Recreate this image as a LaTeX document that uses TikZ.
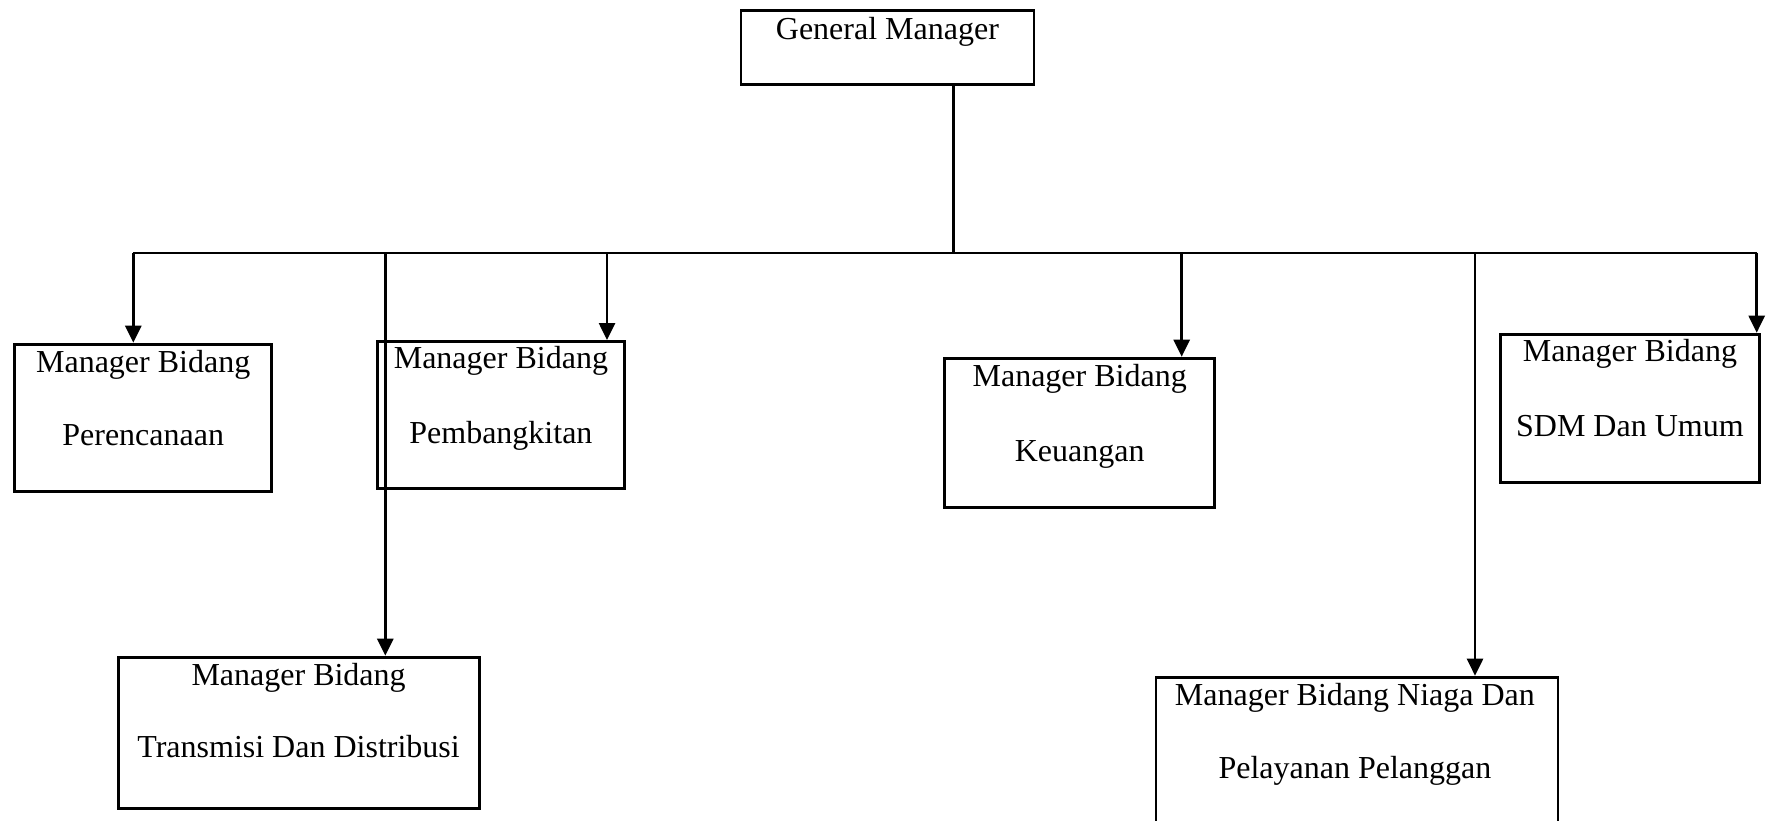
\documentclass[tikz,border=0pt]{standalone}
\usepackage{fontspec}
\setmainfont{Liberation Serif}
\usetikzlibrary{arrows.meta,calc}
\begin{document}
\begin{tikzpicture}[x=1pt,y=-1pt,
  orgbox/.style={draw=black,line width=2.8pt,rectangle,inner sep=0pt,anchor=north west},
  lbl/.style={anchor=base,inner sep=0pt,font=\fontsize{32}{38}\selectfont},
  conn/.style={line width=2.6pt,draw=black},
  arr/.style={conn,-{Triangle[length=17pt,width=16pt]}}]
\useasboundingbox (0,0) rectangle (1766,820);
% boxes
\node[orgbox,minimum width=293pt,minimum height=74pt] (gm) at (739.5,9.3) {};
\node[orgbox,minimum width=257pt,minimum height=147pt] (per) at (13.3,342.7) {};
\node[orgbox,minimum width=247pt,minimum height=147pt] (pem) at (376,340) {};
\node[orgbox,minimum width=270pt,minimum height=149pt] (keu) at (943.3,356.7) {};
\node[orgbox,minimum width=259pt,minimum height=148pt] (sdm) at (1499,332.7) {};
\node[orgbox,minimum width=361pt,minimum height=151pt] (tra) at (116.7,655.7) {};
\node[orgbox,minimum width=402pt,minimum height=160pt] (nia) at (1154.5,675.7) {};
% texts
\node[lbl] (gmt) at ($(gm.north)+(0,30)$) {General Manager};
\node[lbl] (per1) at ($(per.north)+(0,29.5)$) {Manager Bidang};
\node[lbl] (per2) at ($(per.north)+(0,102.5)$) {Perencanaan};
\node[lbl] (pem1) at ($(pem.north)+(0,28.5)$) {Manager Bidang};
\node[lbl] (pem2) at ($(pem.north)+(0,103)$) {Pembangkitan};
\node[lbl] (keu1) at ($(keu.north)+(0,30)$) {Manager Bidang};
\node[lbl] (keu2) at ($(keu.north)+(0,104.3)$) {Keuangan};
\node[lbl] (sdm1) at ($(sdm.north)+(0,29)$) {Manager Bidang};
\node[lbl] (sdm2) at ($(sdm.north)+(0,104)$) {SDM Dan Umum};
\node[lbl] (tra1) at ($(tra.north)+(0,29.3)$) {Manager Bidang};
\node[lbl] (tra2) at ($(tra.north)+(0,101.3)$) {Transmisi Dan Distribusi};
\node[lbl] (nia1) at ($(nia.north)+(-2,29.3)$) {Manager Bidang Niaga Dan};
\node[lbl] (nia2) at ($(nia.north)+(-2,102.3)$) {Pelayanan Pelanggan};
% bus coordinates
\coordinate (gmb) at (953.5,252.7);
\coordinate (bper) at (133.3,252.7);
\coordinate (btra) at (385.3,252.7);
\coordinate (bpem) at (607,252.7);
\coordinate (bkeu) at (1181.7,252.7);
\coordinate (bnia) at (1475,252.7);
\coordinate (bsdm) at (1756.7,252.7);
% connectors
\draw[conn] (gmb |- gm.south) -- (gmb);
\draw[conn,line width=2.3pt] (bper) -- (bsdm);
\draw[arr] (bper) -- (bper |- per.north);
\draw[arr] (btra) -- (btra |- tra.north);
\draw[arr] (bpem) -- (bpem |- pem.north);
\draw[arr] (bkeu) -- (bkeu |- keu.north);
\draw[arr] (bnia) -- (bnia |- nia.north);
\draw[arr] (bsdm) -- (bsdm |- sdm.north);
\end{tikzpicture}
\end{document}
